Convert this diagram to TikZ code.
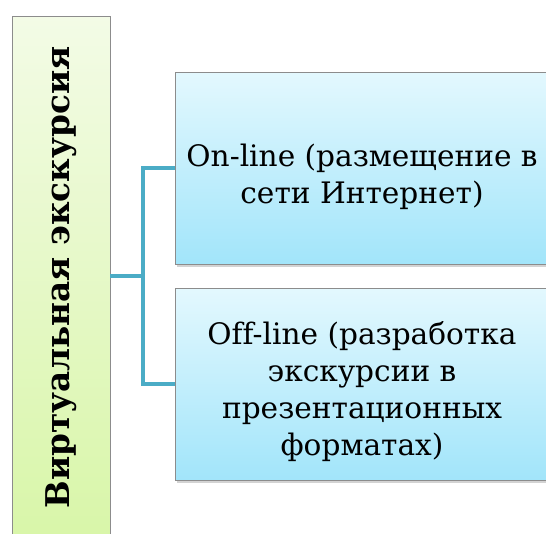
\documentclass[tikz,border=0pt]{standalone}
\usepackage{fontspec}
\setmainfont{DejaVu Serif}[Ligatures=NoCommon]
\usetikzlibrary{shadows}
\definecolor{linkblue}{HTML}{4BACC6}
\definecolor{boxedge}{HTML}{8C8C8C}
\definecolor{skytop}{HTML}{E3F8FE}
\definecolor{skybottom}{HTML}{A2E5FA}
\definecolor{limetop}{HTML}{F3FBE6}
\definecolor{limebottom}{HTML}{D8F6A8}
\tikzset{
  topic/.style={draw=boxedge, line width=0.8pt, top color=#1, drop shadow={opacity=0.35, shadow xshift=2pt, shadow yshift=-2.5pt}},
  sidebox/.style={draw=boxedge, line width=0.8pt, top color=limetop, bottom color=limebottom,
    minimum width=98pt, minimum height=529pt, inner sep=0pt},
  itembox/.style={topic=skytop, bottom color=skybottom,
    minimum width=374pt, minimum height=192pt, inner sep=0pt},
  itemtext/.style={align=center, inner sep=0pt, font=\fontsize{29.6}{37}\selectfont},
  link/.style={linkblue, line width=4pt}
}
\begin{document}
\begin{tikzpicture}[x=1pt, y=-1pt]
  \useasboundingbox (0,0) rectangle (546,533);
  % Boxes
  \node[sidebox] (virt) at (61,280.5) {};
  \node[rotate=90, font=\fontsize{32.7}{40}\bfseries\selectfont] (title) at (61,277.5) {Виртуальная экскурсия};
  \node[itembox] (online) at (362,168) {};
  \node[itembox] (offline) at (362,384) {};
  \node[itemtext] (onlinetext) at ([yshift=-9pt]online.center) {On-line (размещение в\\сети Интернет)};
  \node[itemtext] (offlinetext) at ([yshift=-8pt]offline.center) {Off-line (разработка\\экскурсии в\\презентационных\\форматах)};
  % Connectors
  \coordinate (fork) at (143,276);
  \draw[link] (virt.east |- fork) -- (fork);
  \draw[link] (online.west) -| (fork) |- (offline.west);
\end{tikzpicture}
\end{document}
